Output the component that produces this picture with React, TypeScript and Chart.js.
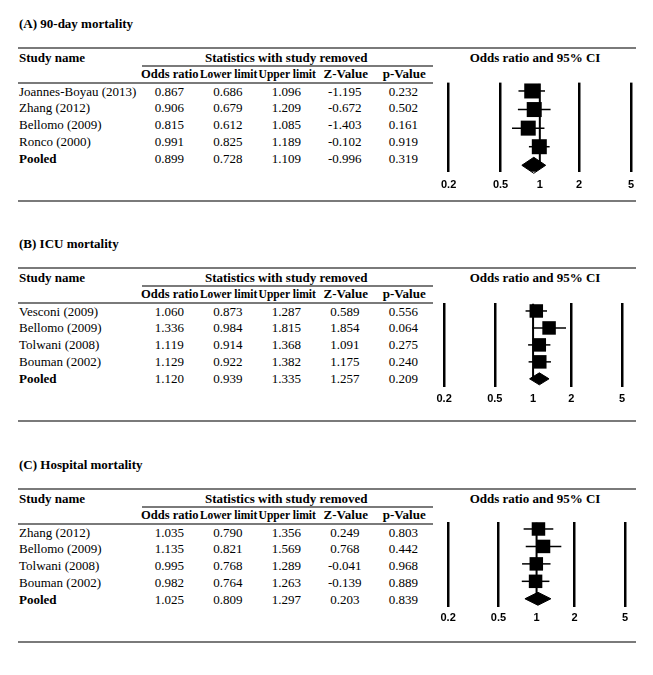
import React, { useEffect, useRef } from "react";
import { Chart, registerables } from "chart.js";

Chart.register(...registerables);

// ---------- data ----------
const panelTitles = ["(A) 90-day mortality", "(B) ICU mortality", "(C) Hospital mortality"];
const columnHeaders = ["Odds ratio", "Lower limit", "Upper limit", "Z-Value", "p-Value"];
const groupHeader = "Statistics with study removed";
const studyHeader = "Study name";
const forestHeader = "Odds ratio and 95% CI";
const tickValues = [0.2, 0.5, 1, 2, 5];
const tickLabels = ["0.2", "0.5", "1", "2", "5"];

const studiesA = ["Joannes-Boyau (2013)", "Zhang (2012)", "Bellomo (2009)", "Ronco (2000)", "Pooled"];
const orA = [0.867, 0.906, 0.815, 0.991, 0.899];
const lowA = [0.686, 0.679, 0.612, 0.825, 0.728];
const upA = [1.096, 1.209, 1.085, 1.189, 1.109];
const zA = [-1.195, -0.672, -1.403, -0.102, -0.996];
const pA = [0.232, 0.502, 0.161, 0.919, 0.319];

const studiesB = ["Vesconi (2009)", "Bellomo (2009)", "Tolwani (2008)", "Bouman (2002)", "Pooled"];
const orB = [1.06, 1.336, 1.119, 1.129, 1.12];
const lowB = [0.873, 0.984, 0.914, 0.922, 0.939];
const upB = [1.287, 1.815, 1.368, 1.382, 1.335];
const zB = [0.589, 1.854, 1.091, 1.175, 1.257];
const pB = [0.556, 0.064, 0.275, 0.24, 0.209];

const studiesC = ["Zhang (2012)", "Bellomo (2009)", "Tolwani (2008)", "Bouman (2002)", "Pooled"];
const orC = [1.035, 1.135, 0.995, 0.982, 1.025];
const lowC = [0.79, 0.821, 0.768, 0.764, 0.809];
const upC = [1.356, 1.569, 1.289, 1.263, 1.297];
const zC = [0.249, 0.768, -0.041, -0.139, 0.203];
const pC = [0.803, 0.442, 0.968, 0.889, 0.839];

// ---------- layout ----------
const panelOffsets = [0, 220, 441];
const forestBoxes = [
  { left: 449, right: 631, top: 83, bottom: 172, yMin: -0.45, yMax: 4.35, sq: 15, dh: 8, tickPad: 7 },
  { left: 444, right: 622, top: 303, bottom: 387, yMin: -0.47, yMax: 4.47, sq: 13.5, dh: 6, tickPad: 5.5 },
  { left: 448, right: 625, top: 522, bottom: 607, yMin: -0.4, yMax: 4.46, sq: 13.5, dh: 6.5, tickPad: 4.5 },
];

const SERIF = '"Liberation Serif", "Times New Roman", serif';
const SANS = '"Liberation Sans", Arial, sans-serif';

let measureCtx: CanvasRenderingContext2D | null = null;
function textWidth(t: string, bold: boolean): number {
  if (!measureCtx) measureCtx = document.createElement("canvas").getContext("2d");
  if (!measureCtx) return t.length * 6.5;
  measureCtx.font = `${bold ? "bold " : ""}13px ${SERIF}`;
  return measureCtx.measureText(t).width;
}

type Box = typeof forestBoxes[number];

function ForestPlot({ or, low, up, box }: { or: number[]; low: number[]; up: number[]; box: Box }) {
  const ref = useRef<HTMLCanvasElement>(null);
  const padL = 12, padR = 12, padT = 10;
  const areaW = box.right - box.left;
  const areaH = box.bottom - box.top;
  const cw = areaW + padL + padR;
  const ch = Math.round(padT + areaH + 2 * box.tickPad + 14);

  useEffect(() => {
    const canvas = ref.current;
    if (!canvas) return;
    const unitPx = areaH / (box.yMax - box.yMin);
    const h = box.dh / unitPx;
    const n = or.length - 1;
    const datasets: any[] = [];
    datasets.push({
      type: "line",
      data: [{ x: 1, y: box.yMin + 0.05 }, { x: 1, y: n }],
      borderColor: "#000",
      borderWidth: 2,
      pointRadius: 0,
      clip: false,
    });
    for (let i = 0; i < n; i++) {
      datasets.push({
        type: "line",
        data: [{ x: low[i], y: i }, { x: up[i], y: i }],
        borderColor: "#000",
        borderWidth: 1.5,
        pointRadius: 0,
        clip: false,
      });
    }
    datasets.push({
      type: "scatter",
      data: or.slice(0, n).map((v, i) => ({ x: v, y: i })),
      pointStyle: "rect",
      pointRadius: box.sq / (2 * Math.SQRT1_2),
      pointBackgroundColor: "#000",
      pointBorderWidth: 0,
      backgroundColor: "#000",
      borderColor: "#000",
      clip: false,
    });
    datasets.push({
      type: "line",
      data: [
        { x: low[n], y: n },
        { x: or[n], y: n - h },
        { x: up[n], y: n },
        { x: or[n], y: n + h },
        { x: low[n], y: n },
      ],
      borderColor: "#000",
      backgroundColor: "#000",
      borderWidth: 1,
      fill: "shape",
      pointRadius: 0,
      tension: 0,
      clip: false,
    });

    const chart = new Chart(canvas, {
      type: "scatter",
      data: { datasets },
      options: {
        animation: false,
        responsive: false,
        maintainAspectRatio: false,
        events: [],
        layout: { padding: { left: padL, right: padR, top: padT, bottom: 0 } },
        plugins: { legend: { display: false }, tooltip: { enabled: false } },
        scales: {
          x: {
            type: "logarithmic",
            min: tickValues[0],
            max: tickValues[tickValues.length - 1],
            position: "bottom",
            afterBuildTicks: (s: any) => {
              s.ticks = tickValues.map((v) => ({ value: v }));
            },
            ticks: {
              autoSkip: false,
              maxRotation: 0,
              padding: box.tickPad,
              color: "#000",
              font: { family: SANS, size: 11, weight: "bold" },
              callback: (_v: any, i: number) => tickLabels[i],
            },
            grid: {
              drawTicks: false,
              lineWidth: 2.5,
              color: (ctx: any) => (ctx.tick && ctx.tick.value === 1 ? "rgba(0,0,0,0)" : "#000"),
            },
            border: { display: false },
          },
          y: {
            type: "linear",
            min: box.yMin,
            max: box.yMax,
            reverse: true,
            display: false,
          },
        },
      } as any,
    });

    // fit the canvas so the plot area lands exactly on the reference box
    for (let k = 0; k < 4; k++) {
      const ca = chart.chartArea;
      const dw = areaW - (ca.right - ca.left);
      const dhh = areaH - (ca.bottom - ca.top);
      if (Math.abs(dw) < 0.5 && Math.abs(dhh) < 0.5) break;
      chart.resize(Math.round(chart.width + dw), Math.round(chart.height + dhh));
      chart.update();
    }
    const ca = chart.chartArea;
    canvas.style.left = `${box.left - ca.left}px`;
    canvas.style.top = `${box.top - ca.top}px`;

    return () => chart.destroy();
  }, []);

  return (
    <canvas
      ref={ref}
      width={cw}
      height={ch}
      style={{ position: "absolute", left: box.left - padL, top: box.top - padT, width: cw, height: ch }}
    />
  );
}

function T({
  x, cy, w, text, bold, align,
}: { x: number; cy: number; w?: number; text: string; bold?: boolean; align?: "left" | "center" }) {
  return (
    <div
      style={{
        position: "absolute",
        left: x,
        top: cy - 8.5,
        width: w,
        height: 16,
        lineHeight: "16px",
        fontFamily: SERIF,
        fontSize: 13,
        fontWeight: bold ? "bold" : "normal",
        textAlign: align || "left",
        whiteSpace: "nowrap",
        color: "#000",
      }}
    >
      {text}
    </div>
  );
}

// header cell: full text, condensed horizontally when wider than its column
function HeaderCell({ x, w, cy, text }: { x: number; w: number; cy: number; text: string }) {
  const tw = textWidth(text, true);
  const avail = w - 1;
  const s = tw > avail ? avail / tw : 1;
  const cx = x + w / 2;
  return (
    <div
      style={{
        position: "absolute",
        left: cx - tw / 2,
        top: cy - 8.5,
        width: tw,
        height: 16,
        lineHeight: "16px",
        fontFamily: SERIF,
        fontSize: 13,
        fontWeight: "bold",
        whiteSpace: "nowrap",
        color: "#000",
        transform: `scaleX(${s})`,
        transformOrigin: "center",
      }}
    >
      {text}
    </div>
  );
}

function Rule({ x1, x2, y }: { x1: number; x2: number; y: number }) {
  return (
    <div style={{ position: "absolute", left: x1, top: y - 1, width: x2 - x1, height: 2, background: "#7a7a7a" }} />
  );
}

function Panel({
  off, title, studies, or, low, up, z, p, box,
}: {
  off: number; title: string; studies: string[]; or: number[]; low: number[]; up: number[]; z: number[]; p: number[]; box: Box;
}) {
  const colX = 140;
  const colW = 58.5;
  const rows = studies.map((s, i) => {
    const cy = off + 92 + i * 16.9;
    const vals = [or[i], low[i], up[i], z[i], p[i]];
    return (
      <React.Fragment key={s + i}>
        <T x={19} cy={cy} text={s} bold={s === "Pooled"} />
        {vals.map((v, j) => (
          <T key={j} x={colX + j * colW} w={colW} cy={cy} text={v.toFixed(3)} align="center" />
        ))}
      </React.Fragment>
    );
  });
  return (
    <>
      <T x={19} cy={off + 24} text={title} bold />
      <Rule x1={18} x2={636} y={off + 48} />
      <T x={19} cy={off + 58} text={studyHeader} bold />
      <T x={colX} w={colW * 5} cy={off + 58} text={groupHeader} bold align="center" />
      <T x={435} w={200} cy={off + 58} text={forestHeader} bold align="center" />
      <Rule x1={142} x2={433} y={off + 65.5} />
      {columnHeaders.map((h, j) => (
        <HeaderCell key={h} x={colX + 1 + j * colW} w={colW} cy={off + 74.5} text={h} />
      ))}
      <Rule x1={18} x2={433} y={off + 82.5} />
      {rows}
      <Rule x1={18} x2={636} y={off + 200.5} />
      <ForestPlot or={or} low={low} up={up} box={box} />
    </>
  );
}

export default function App() {
  return (
    <div style={{ position: "absolute", left: 0, top: 0, width: 653, height: 675, background: "#fff", overflow: "hidden" }}>
      <Panel off={panelOffsets[0]} title={panelTitles[0]} studies={studiesA} or={orA} low={lowA} up={upA} z={zA} p={pA} box={forestBoxes[0]} />
      <Panel off={panelOffsets[1]} title={panelTitles[1]} studies={studiesB} or={orB} low={lowB} up={upB} z={zB} p={pB} box={forestBoxes[1]} />
      <Panel off={panelOffsets[2]} title={panelTitles[2]} studies={studiesC} or={orC} low={lowC} up={upC} z={zC} p={pC} box={forestBoxes[2]} />
    </div>
  );
}
